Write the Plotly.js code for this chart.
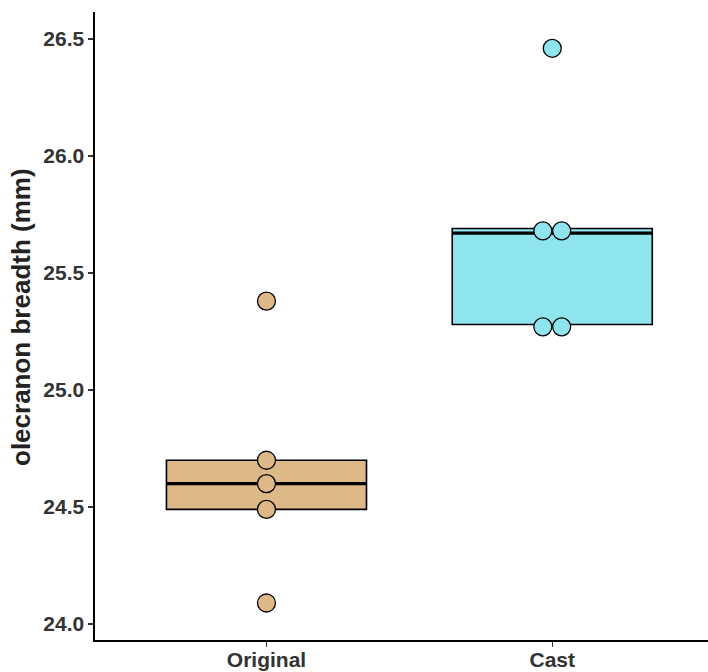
<!DOCTYPE html>
<html>
<head>
<meta charset="utf-8">
<script src="https://cdn.plot.ly/plotly-3.0.1.min.js"></script>
<style>html,body{margin:0;padding:0;background:#fff;overflow:hidden;}</style>
</head>
<body>
<div id="chart" style="width:708px;height:672px;"></div>
<script>
// Data
var groups = ["Original", "Cast"];
var originalValues = [25.38, 24.70, 24.60, 24.49, 24.09];
var castValues = [26.46, 25.68, 25.68, 25.27, 25.27];
var boxQ1 = [24.49, 25.28];
var boxMedian = [24.60, 25.67];
var boxQ3 = [24.70, 25.69];
var fillColors = ["#DEB887", "#8EE5EE"];
var yTitle = "olecranon breadth (mm)";

var allValues = [originalValues, castValues];
var boxWidth = 0.7;
var dotStep = 0.066; // horizontal stacking step for equal values (in category units)

var traces = [];
groups.forEach(function (g, i) {
  var pos = i + 1;
  traces.push({
    type: "box",
    x: [pos],
    q1: [boxQ1[i]],
    median: [boxMedian[i]],
    q3: [boxQ3[i]],
    lowerfence: [boxQ1[i]],
    upperfence: [boxQ3[i]],
    width: boxWidth,
    whiskerwidth: 0,
    fillcolor: fillColors[i],
    line: { color: "#000000", width: 1.6 },
    boxpoints: false,
    hoverinfo: "skip",
    showlegend: false
  });
  traces.push({
    type: "scatter",
    mode: "lines",
    x: [pos - boxWidth / 2, pos + boxWidth / 2],
    y: [boxMedian[i], boxMedian[i]],
    line: { color: "#000000", width: 3.2 },
    hoverinfo: "skip",
    showlegend: false
  });
  // stack equal values side by side, centred on the category
  var vals = allValues[i];
  var counts = {};
  vals.forEach(function (v) { counts[v] = (counts[v] || 0) + 1; });
  var seen = {};
  var xs = vals.map(function (v) {
    var n = counts[v];
    var k = seen[v] || 0;
    seen[v] = k + 1;
    return pos + (k - (n - 1) / 2) * dotStep;
  });
  traces.push({
    type: "scatter",
    mode: "markers",
    x: xs,
    y: vals,
    marker: { size: 18, color: fillColors[i], line: { color: "#000000", width: 1.3 } },
    hoverinfo: "skip",
    showlegend: false
  });
});

var fontFamily = "Liberation Sans, Arial, Helvetica, sans-serif";
var layout = {
  width: 708,
  height: 672,
  margin: { l: 95, r: 0, t: 12, b: 32 },
  paper_bgcolor: "#ffffff",
  plot_bgcolor: "#ffffff",
  showlegend: false,
  hovermode: false,
  xaxis: {
    range: [0.4, 2.545],
    tickvals: [1, 2],
    ticktext: groups,
    showgrid: false,
    zeroline: false,
    showline: true,
    linecolor: "#000000",
    linewidth: 1.6,
    ticks: "outside",
    ticklen: 5,
    tickwidth: 1.4,
    tickcolor: "#333333",
    ticklabelstandoff: -5,
    tickfont: { family: fontFamily, size: 21, color: "#333333", weight: "bold" }
  },
  yaxis: {
    range: [23.932, 26.615],
    tick0: 24,
    dtick: 0.5,
    tickformat: ".1f",
    showgrid: false,
    zeroline: false,
    showline: true,
    linecolor: "#000000",
    linewidth: 1.6,
    ticks: "outside",
    ticklen: 5,
    tickwidth: 1.4,
    tickcolor: "#333333",
    tickfont: { family: fontFamily, size: 21, color: "#333333", weight: "bold" }
  },
  annotations: [{
    text: yTitle,
    xref: "paper",
    yref: "paper",
    x: (21 - 95) / 613,
    y: (640 - 317) / 628,
    xanchor: "center",
    yanchor: "middle",
    textangle: -90,
    showarrow: false,
    font: { family: fontFamily, size: 26, color: "#222222", weight: "bold" }
  }]
};

Plotly.newPlot("chart", traces, layout, { displayModeBar: false, staticPlot: true });
</script>
</body>
</html>
